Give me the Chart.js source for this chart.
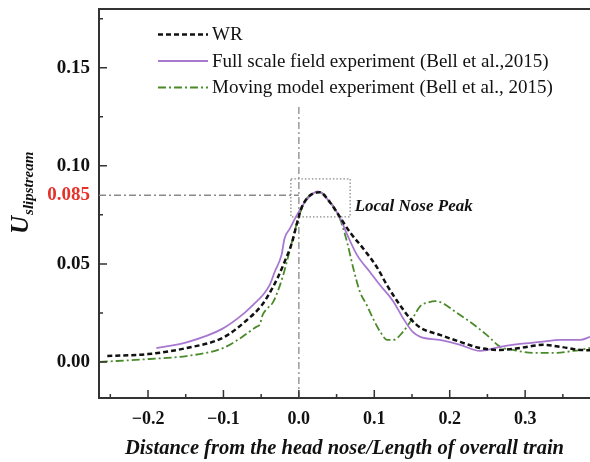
<!DOCTYPE html>
<html>
<head>
<meta charset="utf-8">
<script src="https://cdn.jsdelivr.net/npm/chart.js@4/dist/chart.umd.min.js"></script>
<style>
  body { margin: 0; background: #fff; }
  canvas { display: block; }
</style>
</head>
<body>
<canvas id="chart" width="590" height="462"></canvas>
<script>
// Series (x = distance / train length, y = U slipstream)
const wrX = [-0.254, -0.2, -0.15, -0.1, -0.07, -0.049, -0.039, -0.028, -0.019, -0.009, -0.003, 0.004, 0.015, 0.028, 0.04, 0.05, 0.068, 0.085, 0.104, 0.117, 0.134, 0.147, 0.161, 0.187, 0.214, 0.24, 0.267, 0.293, 0.324, 0.347, 0.373, 0.386];
const wrY = [0.003, 0.004, 0.007, 0.0125, 0.021, 0.029, 0.035, 0.043, 0.051, 0.061, 0.070, 0.079, 0.085, 0.0865, 0.082, 0.0765, 0.066, 0.058, 0.048, 0.039, 0.029, 0.0224, 0.0175, 0.0138, 0.0102, 0.0071, 0.0061, 0.0071, 0.0087, 0.0077, 0.0061, 0.006];

const fullX = [-0.189, -0.149, -0.101, -0.072, -0.061, -0.048, -0.039, -0.032, -0.023, -0.019, -0.012, -0.001, 0.011, 0.025, 0.04, 0.054, 0.064, 0.077, 0.094, 0.108, 0.125, 0.138, 0.151, 0.161, 0.187, 0.214, 0.24, 0.249, 0.267, 0.293, 0.32, 0.347, 0.373, 0.386];
const fullY = [0.007, 0.010, 0.017, 0.025, 0.029, 0.034, 0.039, 0.046, 0.0546, 0.063, 0.068, 0.076, 0.083, 0.087, 0.082, 0.074, 0.065, 0.0546, 0.046, 0.039, 0.031, 0.0224, 0.0153, 0.0128, 0.0112, 0.0087, 0.0056, 0.006, 0.0077, 0.0092, 0.0102, 0.0112, 0.0112, 0.0128];

const modelX = [-0.264, -0.198, -0.149, -0.101, -0.078, -0.056, -0.052, -0.048, -0.04, -0.035, -0.029, -0.021, -0.014, -0.008, -0.001, 0.008, 0.015, 0.028, 0.037, 0.054, 0.064, 0.072, 0.081, 0.09, 0.098, 0.108, 0.117, 0.125, 0.138, 0.151, 0.161, 0.171, 0.181, 0.192, 0.205, 0.227, 0.249, 0.267, 0.284, 0.311, 0.337, 0.364, 0.386];
const modelY = [0.0, 0.0015, 0.003, 0.007, 0.012, 0.018, 0.019, 0.024, 0.028, 0.030, 0.035, 0.044, 0.054, 0.063, 0.073, 0.082, 0.085, 0.0865, 0.0837, 0.0735, 0.061, 0.048, 0.0357, 0.029, 0.0224, 0.0153, 0.0112, 0.0112, 0.0153, 0.0224, 0.0285, 0.0303, 0.031, 0.0297, 0.0262, 0.0204, 0.0138, 0.0077, 0.0061, 0.0046, 0.0046, 0.0056, 0.0071];

const seriesNames = ['WR', 'Full scale field experiment (Bell et al.,2015)', 'Moving model experiment (Bell et al., 2015)'];

// Axis ticks
const xTicks = [-0.2, -0.1, 0.0, 0.1, 0.2, 0.3];
const xMinorTicks = [-0.25, -0.15, -0.05, 0.05, 0.15, 0.25, 0.35];
const yTicks = [0.0, 0.05, 0.10, 0.15];
const yMinorTicks = [0.025, 0.075, 0.125, 0.175];
const peakValue = 0.085;

// Nose peak box and marker lines (data units)
const peakBox = { x0: -0.0106, x1: 0.068, y0: 0.074, y1: 0.0934 };
const markerTop = 0.13;

const serif = '"Liberation Serif", "Times New Roman", serif';

function pts(xs, ys) {
    return xs.map((x, i) => ({ x: x, y: ys[i] }));
}

// Draw annotation lines behind the curves
const annotationPlugin = {
    id: 'annotations',
    beforeDatasetsDraw(chart) {
        const { ctx, scales: { x, y } } = chart;
        ctx.save();
        ctx.strokeStyle = '#8a8a8a';
        ctx.lineWidth = 1.3;
        ctx.setLineDash([7, 3, 2, 3]);
        ctx.beginPath();
        ctx.moveTo(x.left, y.getPixelForValue(peakValue));
        ctx.lineTo(x.getPixelForValue(0), y.getPixelForValue(peakValue));
        ctx.moveTo(x.getPixelForValue(0), y.getPixelForValue(markerTop));
        ctx.lineTo(x.getPixelForValue(0), y.bottom);
        ctx.stroke();

        ctx.setLineDash([1.5, 2]);
        ctx.lineWidth = 1.3;
        const bx0 = x.getPixelForValue(peakBox.x0), bx1 = x.getPixelForValue(peakBox.x1);
        const by0 = y.getPixelForValue(peakBox.y1), by1 = y.getPixelForValue(peakBox.y0);
        ctx.strokeRect(bx0, by0, bx1 - bx0, by1 - by0);
        ctx.restore();
    },
    afterDraw(chart) {
        const { ctx, scales: { x, y }, chartArea } = chart;
        ctx.save();
        // frame top
        ctx.strokeStyle = '#333';
        ctx.lineWidth = 2;
        ctx.beginPath();
        ctx.moveTo(chartArea.left, chartArea.top);
        ctx.lineTo(chartArea.right, chartArea.top);
        ctx.stroke();

        // inward tick marks
        ctx.lineWidth = 1.5;
        ctx.beginPath();
        xTicks.forEach(v => { const px = x.getPixelForValue(v); ctx.moveTo(px, y.bottom); ctx.lineTo(px, y.bottom - 8); });
        xMinorTicks.forEach(v => { const px = x.getPixelForValue(v); ctx.moveTo(px, y.bottom); ctx.lineTo(px, y.bottom - 4); });
        yTicks.forEach(v => { const py = y.getPixelForValue(v); ctx.moveTo(x.left, py); ctx.lineTo(x.left + 8, py); });
        yMinorTicks.forEach(v => { const py = y.getPixelForValue(v); ctx.moveTo(x.left, py); ctx.lineTo(x.left + 4, py); });
        ctx.stroke();

        // peak label
        ctx.fillStyle = '#111';
        ctx.font = 'italic bold 17px ' + serif;
        ctx.textBaseline = 'middle';
        ctx.textAlign = 'left';
        ctx.fillText('Local Nose Peak', x.getPixelForValue(0.074), y.getPixelForValue(0.079));

        // legend
        ctx.font = '19px ' + serif;
        chart.data.datasets.forEach((ds, i) => {
            const ly = 34.5 + i * 26.5;
            ctx.strokeStyle = ds.borderColor;
            ctx.lineWidth = ds.borderWidth;
            ctx.setLineDash(ds.borderDash || []);
            ctx.beginPath();
            ctx.moveTo(158, ly);
            ctx.lineTo(208, ly);
            ctx.stroke();
            ctx.fillStyle = '#111';
            ctx.fillText(ds.label, 212, ly + 1);
        });
        ctx.setLineDash([]);

        // y axis title: U with subscript
        ctx.translate(28, 234);
        ctx.rotate(-Math.PI / 2);
        ctx.textAlign = 'left';
        ctx.textBaseline = 'alphabetic';
        ctx.font = 'italic bold 25px ' + serif;
        ctx.fillText('U', 0, 0);
        const uw = ctx.measureText('U').width;
        ctx.font = 'italic bold 15px ' + serif;
        ctx.fillText('slipstream', uw + 1, 5);
        ctx.restore();
    }
};

new Chart(document.getElementById('chart'), {
    type: 'line',
    data: {
        datasets: [
            {
                label: seriesNames[0],
                data: pts(wrX, wrY),
                borderColor: '#111',
                borderWidth: 2.5,
                borderDash: [5, 3]
            },
            {
                label: seriesNames[1],
                data: pts(fullX, fullY),
                borderColor: '#a878d0',
                borderWidth: 1.8
            },
            {
                label: seriesNames[2],
                data: pts(modelX, modelY),
                borderColor: '#4a8a2a',
                borderWidth: 1.8,
                borderDash: [8, 3, 2, 3]
            }
        ]
    },
    options: {
        responsive: false,
        animation: false,
        cubicInterpolationMode: 'monotone',
        elements: { point: { radius: 0 } },
        layout: { padding: { top: 9, right: 0, left: 0, bottom: 0 } },
        plugins: {
            legend: { display: false },
            tooltip: { enabled: false }
        },
        scales: {
            x: {
                type: 'linear',
                min: -0.265,
                max: 0.386,
                grid: { display: false, drawTicks: false },
                border: { display: true, color: '#333', width: 2 },
                afterBuildTicks(scale) { scale.ticks = xTicks.map(v => ({ value: v })); },
                afterFit(scale) { scale.height = 64; scale.paddingLeft = 0; scale.paddingRight = 0; },
                ticks: {
                    padding: 11,
                    color: '#111',
                    font: { family: serif, size: 18, weight: 'bold' },
                    callback: v => (v < 0 ? '\u2212' : '') + Math.abs(v).toFixed(1)
                },
                title: {
                    display: true,
                    text: 'Distance from the head nose/Length of overall train',
                    color: '#111',
                    font: { family: serif, size: 20.5, weight: 'bold', style: 'italic' },
                    padding: { top: 0, bottom: 1 }
                }
            },
            y: {
                min: -0.0184,
                max: 0.18,
                grid: { display: false, drawTicks: false },
                border: { display: true, color: '#333', width: 2 },
                afterBuildTicks(scale) { scale.ticks = yTicks.concat([peakValue]).map(v => ({ value: v })); },
                afterFit(scale) { scale.width = 99; scale.paddingTop = 0; scale.paddingBottom = 0; },
                ticks: {
                    padding: 9,
                    color: ctx => (ctx.tick.value === peakValue ? '#e8302a' : '#111'),
                    font: { family: serif, size: 19, weight: 'bold' },
                    callback: v => (v === peakValue ? '0.085' : v.toFixed(2))
                }
            }
        }
    },
    plugins: [annotationPlugin]
});
</script>
</body>
</html>
